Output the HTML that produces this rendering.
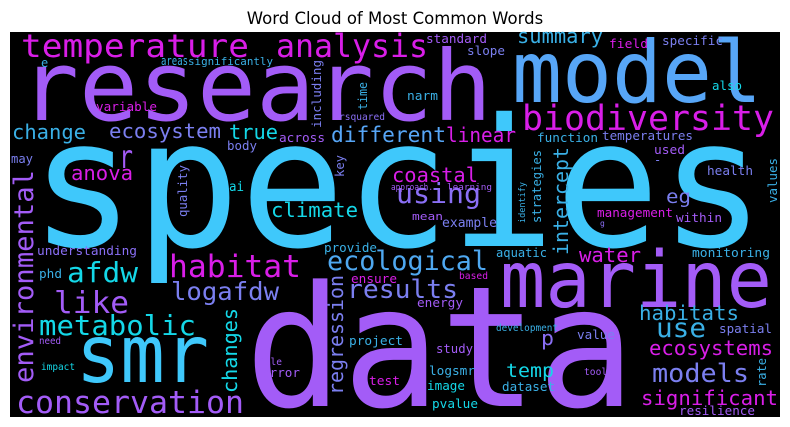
<!DOCTYPE html>
<html><head><meta charset="utf-8"><style>
html,body{margin:0;padding:0;background:#fff;}
svg{display:block;}
.w{font-family:"DejaVu Sans Mono","Liberation Mono",monospace;}
</style></head><body>
<svg width="790" height="427" viewBox="0 0 790 427">
<text x="395" y="24" text-anchor="middle" font-family="DejaVu Sans, Liberation Sans, sans-serif" font-size="16.5" fill="#000">Word Cloud of Most Common Words</text>
<rect x="10" y="32" width="770" height="385" fill="#000"/>
<g class="w">
<text x="30" y="246" font-size="178" textLength="735" lengthAdjust="spacingAndGlyphs" fill="#3fc8fb">species</text>
<text x="245" y="406" font-size="168" textLength="390" lengthAdjust="spacingAndGlyphs" fill="#a35cf7">data</text>
<text x="20" y="120" font-size="97" textLength="472" lengthAdjust="spacingAndGlyphs" fill="#a35cf7">research</text>
<text x="512" y="102" font-size="86" textLength="250" lengthAdjust="spacingAndGlyphs" fill="#57a6f7">model</text>
<text x="500" y="307" font-size="78" textLength="272" lengthAdjust="spacingAndGlyphs" fill="#a35cf7">marine</text>
<text x="76" y="382" font-size="80" textLength="133" lengthAdjust="spacingAndGlyphs" fill="#3fc8fb">smr</text>
<text x="21" y="57" font-size="32" textLength="228" lengthAdjust="spacingAndGlyphs" fill="#d91ee8">temperature</text>
<text x="276" y="57" font-size="32" textLength="152" lengthAdjust="spacingAndGlyphs" fill="#d91ee8">analysis</text>
<text x="522" y="130" font-size="35" textLength="252" lengthAdjust="spacingAndGlyphs" fill="#d91ee8">biodiversity</text>
<text x="16" y="413" font-size="31" textLength="228" lengthAdjust="spacingAndGlyphs" fill="#a35cf7">conservation</text>
<text x="169" y="277" font-size="31" textLength="132" lengthAdjust="spacingAndGlyphs" fill="#d91ee8">habitat</text>
<text x="327" y="270" font-size="27" textLength="161" lengthAdjust="spacingAndGlyphs" fill="#4fa8f0">ecological</text>
<text x="347" y="298" font-size="26" textLength="111" lengthAdjust="spacingAndGlyphs" fill="#7b7ff0">results</text>
<text x="39" y="335" font-size="28" textLength="157" lengthAdjust="spacingAndGlyphs" fill="#14d8e8">metabolic</text>
<text x="54" y="313" font-size="30" textLength="75" lengthAdjust="spacingAndGlyphs" fill="#a35cf7">like</text>
<text x="67" y="282" font-size="28" textLength="71" lengthAdjust="spacingAndGlyphs" fill="#14d8e8">afdw</text>
<text x="171" y="300" font-size="25" textLength="108" lengthAdjust="spacingAndGlyphs" fill="#7b7ff0">logafdw</text>
<text x="396" y="203" font-size="28" textLength="85" lengthAdjust="spacingAndGlyphs" fill="#8a6ff5">using</text>
<text x="652" y="382" font-size="26" textLength="97" lengthAdjust="spacingAndGlyphs" fill="#7b7ff0">models</text>
<text x="656" y="337" font-size="27" textLength="50" lengthAdjust="spacingAndGlyphs" fill="#3ab0e6">use</text>
<text x="119" y="168" font-size="32" textLength="14" lengthAdjust="spacingAndGlyphs" fill="#a35cf7">r</text>
<text x="12" y="139" font-size="20" textLength="74" lengthAdjust="spacingAndGlyphs" fill="#3ab0e6">change</text>
<text x="109" y="138" font-size="20" textLength="112" lengthAdjust="spacingAndGlyphs" fill="#7b7ff0">ecosystem</text>
<text x="229" y="139" font-size="20" textLength="49" lengthAdjust="spacingAndGlyphs" fill="#14d8e8">true</text>
<text x="331" y="142" font-size="21" textLength="115" lengthAdjust="spacingAndGlyphs" fill="#57a6f7">different</text>
<text x="446" y="142" font-size="20" textLength="70" lengthAdjust="spacingAndGlyphs" fill="#d91ee8">linear</text>
<text x="71" y="180" font-size="20" textLength="62" lengthAdjust="spacingAndGlyphs" fill="#d91ee8">anova</text>
<text x="271" y="217" font-size="20" textLength="87" lengthAdjust="spacingAndGlyphs" fill="#14d8e8">climate</text>
<text x="392" y="182" font-size="20" textLength="86" lengthAdjust="spacingAndGlyphs" fill="#d91ee8">coastal</text>
<text x="517" y="43" font-size="20" textLength="86" lengthAdjust="spacingAndGlyphs" fill="#3ab0e6">summary</text>
<text x="666" y="203" font-size="19" textLength="25" lengthAdjust="spacingAndGlyphs" fill="#7b7ff0">eg</text>
<text x="579" y="262" font-size="20" textLength="62" lengthAdjust="spacingAndGlyphs" fill="#d91ee8">water</text>
<text x="639" y="320" font-size="20" textLength="100" lengthAdjust="spacingAndGlyphs" fill="#3ab0e6">habitats</text>
<text x="649" y="355" font-size="20" textLength="124" lengthAdjust="spacingAndGlyphs" fill="#d91ee8">ecosystems</text>
<text x="641" y="405" font-size="20.5" textLength="137" lengthAdjust="spacingAndGlyphs" fill="#d91ee8">significant</text>
<text x="506" y="377" font-size="19" textLength="48" lengthAdjust="spacingAndGlyphs" fill="#14d8e8">temp</text>
<text x="541" y="345" font-size="20" textLength="13" lengthAdjust="spacingAndGlyphs" fill="#8a6ff5">p</text>
<text x="41" y="67" font-size="12" fill="#3ab0e6">e</text>
<text x="161" y="65" font-size="12" textLength="27" lengthAdjust="spacingAndGlyphs" fill="#3ab0e6">areas</text>
<text x="188" y="65" font-size="11" textLength="85" lengthAdjust="spacingAndGlyphs" fill="#3ab0e6">significantly</text>
<text x="96" y="111" font-size="12.5" textLength="61" lengthAdjust="spacingAndGlyphs" fill="#d91ee8">variable</text>
<text x="339" y="120" font-size="10" textLength="46" lengthAdjust="spacingAndGlyphs" fill="#8a6ff5">rsquared</text>
<text x="279" y="142" font-size="12.5" textLength="46" lengthAdjust="spacingAndGlyphs" fill="#a35cf7">across</text>
<text x="227" y="150" font-size="12" textLength="30" lengthAdjust="spacingAndGlyphs" fill="#7b7ff0">body</text>
<text x="11" y="163" font-size="12" textLength="22" lengthAdjust="spacingAndGlyphs" fill="#7b7ff0">may</text>
<text x="229" y="191" font-size="13" textLength="15" lengthAdjust="spacingAndGlyphs" fill="#14d8e8">ai</text>
<text x="391" y="190" font-size="9" textLength="42" lengthAdjust="spacingAndGlyphs" fill="#a35cf7">approach.</text>
<text x="447" y="190" font-size="9" textLength="45" lengthAdjust="spacingAndGlyphs" fill="#a35cf7">learning</text>
<text x="412" y="220" font-size="11" textLength="31" lengthAdjust="spacingAndGlyphs" fill="#a35cf7">mean</text>
<text x="442" y="227" font-size="13" textLength="55" lengthAdjust="spacingAndGlyphs" fill="#7b7ff0">example</text>
<text x="407" y="100" font-size="12" textLength="31" lengthAdjust="spacingAndGlyphs" fill="#3ab0e6">narm</text>
<text x="426" y="43" font-size="12.5" textLength="61" lengthAdjust="spacingAndGlyphs" fill="#a35cf7">standard</text>
<text x="467" y="55" font-size="12.5" textLength="38" lengthAdjust="spacingAndGlyphs" fill="#7b7ff0">slope</text>
<text x="609" y="48" font-size="12.5" textLength="39" lengthAdjust="spacingAndGlyphs" fill="#d91ee8">field</text>
<text x="662" y="45" font-size="12.5" textLength="61" lengthAdjust="spacingAndGlyphs" fill="#7b7ff0">specific</text>
<text x="712" y="90" font-size="12" textLength="30" lengthAdjust="spacingAndGlyphs" fill="#14d8e8">also</text>
<text x="537" y="142" font-size="12.5" textLength="61" lengthAdjust="spacingAndGlyphs" fill="#3ab0e6">function</text>
<text x="602" y="140" font-size="12.5" textLength="91" lengthAdjust="spacingAndGlyphs" fill="#7b7ff0">temperatures</text>
<text x="654" y="154" font-size="12.5" textLength="31" lengthAdjust="spacingAndGlyphs" fill="#a35cf7">used</text>
<text x="654" y="164" font-size="12" fill="#7b7ff0">-</text>
<text x="707" y="175" font-size="12.5" textLength="46" lengthAdjust="spacingAndGlyphs" fill="#7b7ff0">health</text>
<text x="597" y="217" font-size="12.5" textLength="76" lengthAdjust="spacingAndGlyphs" fill="#d91ee8">management</text>
<text x="676" y="222" font-size="12.5" textLength="46" lengthAdjust="spacingAndGlyphs" fill="#a35cf7">within</text>
<text x="600" y="226" font-size="8" fill="#8a6ff5">g</text>
<text x="37" y="255" font-size="12.7" textLength="100" lengthAdjust="spacingAndGlyphs" fill="#8a6ff5">understanding</text>
<text x="324" y="252" font-size="12.4" textLength="53" lengthAdjust="spacingAndGlyphs" fill="#3ab0e6">provide</text>
<text x="39" y="278" font-size="12" textLength="23" lengthAdjust="spacingAndGlyphs" fill="#3ab0e6">phd</text>
<text x="351" y="283" font-size="12.5" textLength="46" lengthAdjust="spacingAndGlyphs" fill="#d91ee8">ensure</text>
<text x="39" y="344" font-size="10" textLength="22" lengthAdjust="spacingAndGlyphs" fill="#a35cf7">need</text>
<text x="349" y="345" font-size="12.6" textLength="54" lengthAdjust="spacingAndGlyphs" fill="#3ab0e6">project</text>
<text x="41" y="370" font-size="10" textLength="34" lengthAdjust="spacingAndGlyphs" fill="#14d8e8">impact</text>
<text x="259" y="365" font-size="10" textLength="23" lengthAdjust="spacingAndGlyphs" fill="#a35cf7">file</text>
<text x="262" y="377" font-size="12.5" textLength="38" lengthAdjust="spacingAndGlyphs" fill="#a35cf7">error</text>
<text x="369" y="385" font-size="12.5" textLength="31" lengthAdjust="spacingAndGlyphs" fill="#d91ee8">test</text>
<text x="496" y="257" font-size="12" textLength="51" lengthAdjust="spacingAndGlyphs" fill="#3ab0e6">aquatic</text>
<text x="692" y="257" font-size="12.8" textLength="78" lengthAdjust="spacingAndGlyphs" fill="#3ab0e6">monitoring</text>
<text x="459" y="279" font-size="9.5" textLength="29" lengthAdjust="spacingAndGlyphs" fill="#d91ee8">based</text>
<text x="417" y="307" font-size="12.5" textLength="46" lengthAdjust="spacingAndGlyphs" fill="#a35cf7">energy</text>
<text x="496" y="331" font-size="9.3" textLength="62" lengthAdjust="spacingAndGlyphs" fill="#3ab0e6">development</text>
<text x="719" y="333" font-size="12.4" textLength="53" lengthAdjust="spacingAndGlyphs" fill="#7b7ff0">spatial</text>
<text x="577" y="339" font-size="12.3" textLength="38" lengthAdjust="spacingAndGlyphs" fill="#7b7ff0">value</text>
<text x="436" y="353" font-size="12" textLength="37" lengthAdjust="spacingAndGlyphs" fill="#a35cf7">study</text>
<text x="429" y="375" font-size="12.5" textLength="46" lengthAdjust="spacingAndGlyphs" fill="#3ab0e6">logsmr</text>
<text x="584" y="375" font-size="9.5" textLength="29" lengthAdjust="spacingAndGlyphs" fill="#a35cf7">tools</text>
<text x="427" y="390" font-size="12.5" textLength="38" lengthAdjust="spacingAndGlyphs" fill="#14d8e8">image</text>
<text x="502" y="391" font-size="12.4" textLength="53" lengthAdjust="spacingAndGlyphs" fill="#3ab0e6">dataset</text>
<text x="432" y="408" font-size="12.5" textLength="46" lengthAdjust="spacingAndGlyphs" fill="#14d8e8">pvalue</text>
<text x="679" y="415" font-size="12.5" textLength="76" lengthAdjust="spacingAndGlyphs" fill="#a35cf7">resilience</text>
<text transform="translate(33,383) rotate(-90)" font-size="27" textLength="213" lengthAdjust="spacingAndGlyphs" fill="#a35cf7">environmental</text>
<text transform="translate(321,128) rotate(-90)" font-size="12.5" textLength="68" lengthAdjust="spacingAndGlyphs" fill="#7b7ff0">including</text>
<text transform="translate(367,110) rotate(-90)" font-size="12" textLength="28" lengthAdjust="spacingAndGlyphs" fill="#3ab0e6">time</text>
<text transform="translate(344,177) rotate(-90)" font-size="12" textLength="22" lengthAdjust="spacingAndGlyphs" fill="#7b7ff0">key</text>
<text transform="translate(187,217) rotate(-90)" font-size="12.5" textLength="52" lengthAdjust="spacingAndGlyphs" fill="#7b7ff0">quality</text>
<text transform="translate(525,223) rotate(-90)" font-size="9" textLength="41" lengthAdjust="spacingAndGlyphs" fill="#3ab0e6">identify</text>
<text transform="translate(541,223) rotate(-90)" font-size="12" textLength="73" lengthAdjust="spacingAndGlyphs" fill="#3ab0e6">strategies</text>
<text transform="translate(568,255) rotate(-90)" font-size="20" textLength="108" lengthAdjust="spacingAndGlyphs" fill="#3ab0e6">intercept</text>
<text transform="translate(777,203) rotate(-90)" font-size="12.5" textLength="45" lengthAdjust="spacingAndGlyphs" fill="#3ab0e6">values</text>
<text transform="translate(237,393) rotate(-90)" font-size="20" textLength="85" lengthAdjust="spacingAndGlyphs" fill="#14d8e8">changes</text>
<text transform="translate(343,395) rotate(-90)" font-size="20" textLength="120" lengthAdjust="spacingAndGlyphs" fill="#7b7ff0">regression</text>
<text transform="translate(766,387) rotate(-90)" font-size="12" textLength="29" lengthAdjust="spacingAndGlyphs" fill="#3ab0e6">rate</text>
</g>
</svg>
</body></html>
